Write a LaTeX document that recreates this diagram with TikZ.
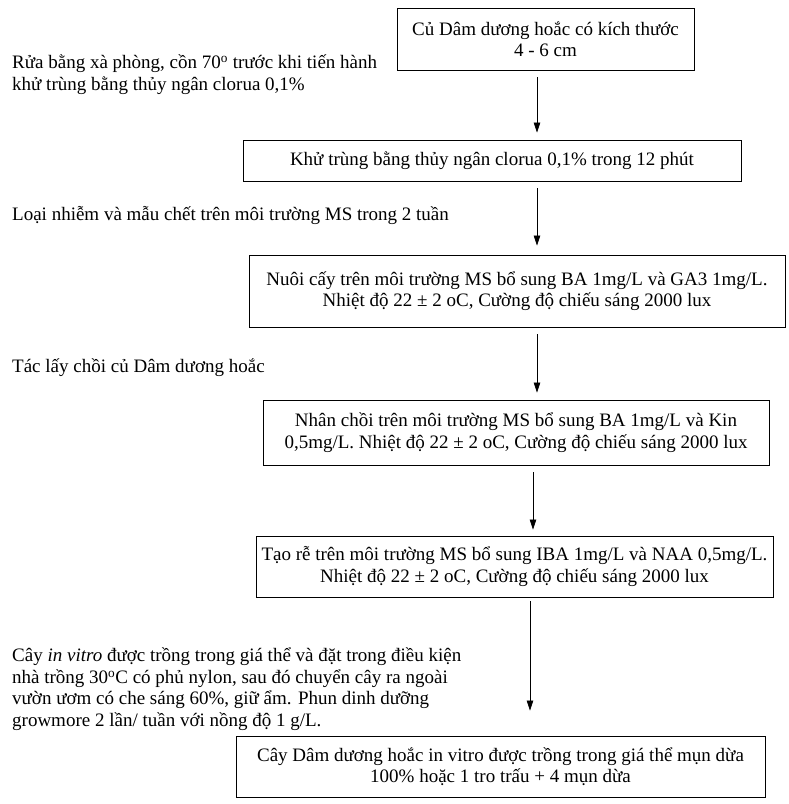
\documentclass[tikz,border=0pt]{standalone}
\usepackage{fontspec}
\setmainfont{Liberation Serif}
\usetikzlibrary{arrows.meta}
\begin{document}
\begin{tikzpicture}[x=1pt,y=-1pt,
  every node/.style={font=\fontsize{19}{21.5}\selectfont},
  stepbox/.style={draw,line width=0.9pt,align=center,inner sep=0pt},
  note/.style={align=left,anchor=north west,inner sep=0pt},
  arr/.style={line width=0.8pt,-{Triangle[length=10pt,width=6.5pt]}}]
\useasboundingbox (0,0) rectangle (789,804);
\node[stepbox,minimum width=297,minimum height=62] (b1) at (545.5,39) {Củ Dâm dương hoắc có kích thước\\4 - 6 cm};
\node[stepbox,minimum width=498,minimum height=41] (b2) at (492,160.5) {Khử trùng bằng thủy ngân clorua 0,1\% trong 12 phút};
\node[stepbox,minimum width=536,minimum height=72] (b3) at (517,291) {Nuôi cấy trên môi trường MS bổ sung BA 1mg/L và GA3 1mg/L.\\Nhiệt độ 22 ± 2 oC, Cường độ chiếu sáng 2000 lux};
\node[stepbox,minimum width=506,minimum height=65] (b4) at (516,432.5) {Nhân chồi trên môi trường MS bổ sung BA 1mg/L và Kin\\0,5mg/L. Nhiệt độ 22 ± 2 oC, Cường độ chiếu sáng 2000 lux};
\node[stepbox,minimum width=517,minimum height=61] (b5) at (514.5,566.5) {Tạo rễ trên môi trường MS bổ sung IBA 1mg/L và NAA 0,5mg/L.\\Nhiệt độ 22 ± 2 oC, Cường độ chiếu sáng 2000 lux};
\node[stepbox,minimum width=529,minimum height=61] (b6) at (500.5,766.5) {Cây Dâm dương hoắc in vitro được trồng trong giá thể mụn dừa\\100\% hoặc 1 tro trấu + 4 mụn dừa};
\node[note] (t1) at (12,55) {Rửa bằng xà phòng, cồn 70\textsuperscript{o} trước khi tiến hành\\khử trùng bằng thủy ngân clorua 0,1\%};
\node[note] (t2) at (12,206) {Loại nhiễm và mẫu chết trên môi trường MS trong 2 tuần};
\node[note] (t3) at (12,359) {Tác lấy chồi củ Dâm dương hoắc};
\node[note] (t4) at (12,648) {Cây \textit{in vitro} được trồng trong giá thể và đặt trong điều kiện\\nhà trồng 30\textsuperscript{o}C có phủ nylon, sau đó chuyển cây ra ngoài\\vườn ươm có che sáng 60\%, giữ ẩm. Phun dinh dưỡng\\growmore 2 lần/ tuần với nồng độ 1 g/L.};
\coordinate (x1) at (537,0);
\coordinate (x4) at (533,0);
\coordinate (x5) at (530,0);
\draw[arr,shorten <=7pt,shorten >=7pt] (b1.south -| x1) -- (b2.north -| x1);
\draw[arr,shorten <=7pt,shorten >=9pt] (b2.south -| x1) -- (b3.north -| x1);
\draw[arr,shorten <=7pt,shorten >=7pt] (b3.south -| x1) -- (b4.north -| x1);
\draw[arr,shorten <=7pt,shorten >=6pt] (b4.south -| x4) -- (b5.north -| x4);
\draw[arr,shorten <=4pt,shorten >=25pt] (b5.south -| x5) -- (b6.north -| x5);
\end{tikzpicture}
\end{document}
